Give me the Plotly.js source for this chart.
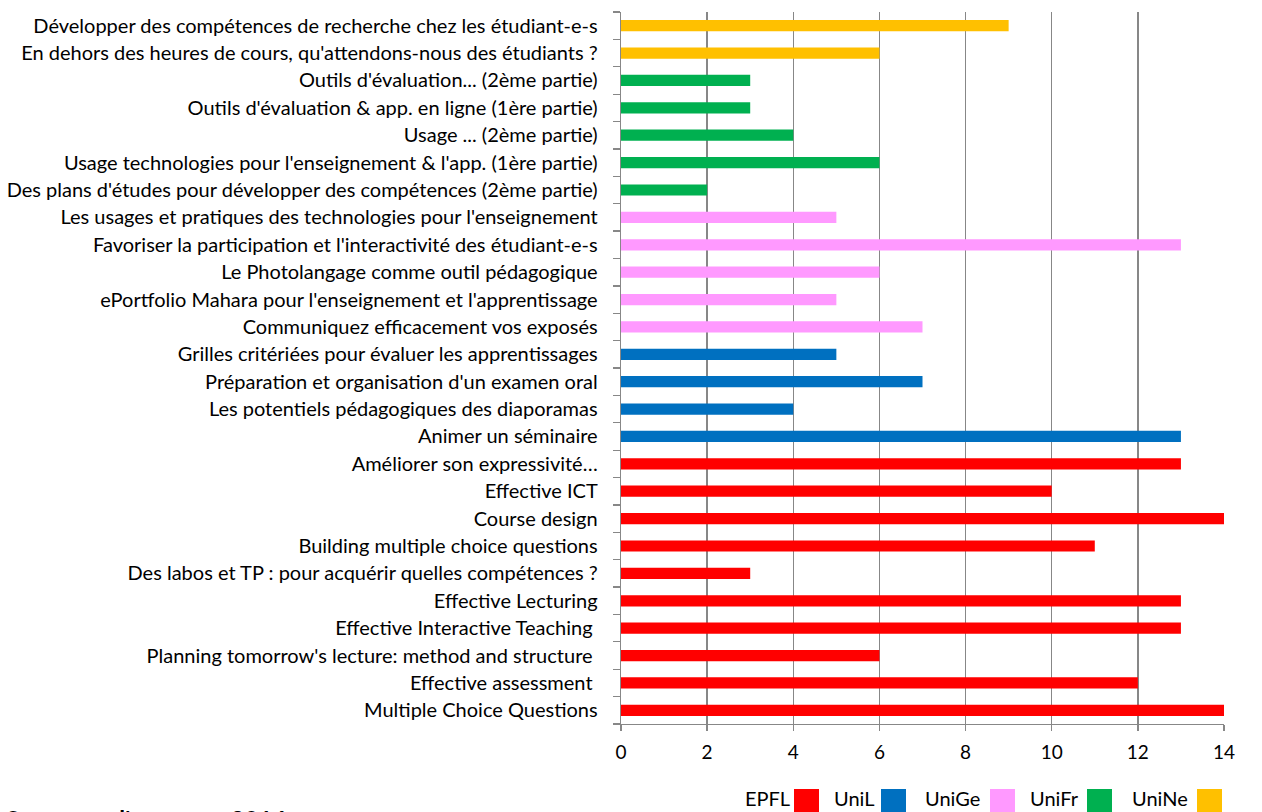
<!DOCTYPE html>
<html>
<head>
<meta charset="utf-8">
<script src="https://cdn.plot.ly/plotly-3.0.1.min.js"></script>
<style>
html,body{margin:0;padding:0;background:#fff;overflow:hidden;}
#chart{width:1262px;height:812px;}
</style>
</head>
<body>
<div id="chart"></div>
<script>
// Courses (bottom to top within each institution) and participant counts
const epflCourses = [
  "Multiple Choice Questions",
  "Effective assessment ",
  "Planning tomorrow's lecture: method and structure ",
  "Effective Interactive Teaching ",
  "Effective Lecturing",
  "Des labos et TP : pour acquérir quelles compétences ?",
  "Building multiple choice questions",
  "Course design",
  "Effective ICT",
  "Améliorer son expressivité…"
];
const epflValues = [14, 12, 6, 13, 13, 3, 11, 14, 10, 13];

const unilCourses = [
  "Animer un séminaire",
  "Les potentiels pédagogiques des diaporamas",
  "Préparation et organisation d'un examen oral",
  "Grilles critériées pour évaluer les apprentissages"
];
const unilValues = [13, 4, 7, 5];

const unigeCourses = [
  "Communiquez efficacement vos exposés",
  "ePortfolio Mahara pour l'enseignement et l'apprentissage",
  "Le Photolangage comme outil pédagogique",
  "Favoriser la participation et l'interactivité des étudiant-e-s",
  "Les usages et pratiques des technologies pour l'enseignement"
];
const unigeValues = [7, 5, 6, 13, 5];

const unifrCourses = [
  "Des plans d'études pour développer des compétences (2ème partie)",
  "Usage technologies pour l'enseignement & l'app. (1ère partie)",
  "Usage ... (2ème partie)",
  "Outils d'évaluation & app. en ligne (1ère partie)",
  "Outils d'évaluation... (2ème partie)"
];
const unifrValues = [2, 6, 4, 3, 3];

const unineCourses = [
  "En dehors des heures de cours, qu'attendons-nous des étudiants ?",
  "Développer des compétences de recherche chez les étudiant-e-s"
];
const unineValues = [6, 9];

const institutions = ["EPFL", "UniL", "UniGe", "UniFr", "UniNe"];
const xTicks = [0, 2, 4, 6, 8, 10, 12, 14];
const chartTitle = "Semestre d'automne 2014";

const colors = ["#FF0000", "#0070C0", "#FF99FF", "#00B050", "#FFC000"];
const groups = [
  [epflCourses, epflValues],
  [unilCourses, unilValues],
  [unigeCourses, unigeValues],
  [unifrCourses, unifrValues],
  [unineCourses, unineValues]
];

const allCourses = [].concat(epflCourses, unilCourses, unigeCourses, unifrCourses, unineCourses);

const traces = groups.map((g, i) => ({
  type: "bar",
  orientation: "h",
  name: institutions[i],
  y: g[0],
  x: g[1],
  marker: {color: colors[i], line: {width: 0}},
  hoverinfo: "x+y",
  showlegend: false
}));

const FONT = "Lato, 'Open Sans', sans-serif";
const grid = "#878787";

// Legend drawn as label followed by swatch, as in the original
const legendTextX = [743, 832, 923, 1028, 1130];
const legendSwX = [794, 881, 990, 1087, 1197];
const W = 1262, H = 812;
const PL = 621, PR = 38, PT = 12, PB = 88;
const px = v => (v - PL) / (W - PL - PR);
const py = v => (H - PB - v) / (H - PB - PT);
const annotations = institutions.map((n, i) => ({
  xref: "paper", yref: "paper",
  x: px(legendTextX[i]), y: py(784),
  xanchor: "left", yanchor: "top",
  text: n, showarrow: false,
  font: {family: FONT, size: 20, color: "#000"}
}));
annotations.push({
  xref: "paper", yref: "paper",
  x: px(4), y: py(803),
  xanchor: "left", yanchor: "top",
  text: "<b>" + chartTitle + "</b>", showarrow: false,
  font: {family: FONT, size: 24, color: "#000"}
});
const shapes = institutions.map((n, i) => ({
  type: "rect", xref: "paper", yref: "paper",
  x0: px(legendSwX[i]), x1: px(legendSwX[i] + 25),
  y0: py(789), y1: py(830),
  fillcolor: colors[i], line: {width: 0}
}));

const layout = {
  width: W, height: H,
  margin: {l: PL, r: PR, t: PT, b: PB, pad: 0},
  paper_bgcolor: "#fff", plot_bgcolor: "#fff",
  barmode: "overlay",
  bargap: 0.59,
  showlegend: false,
  font: {family: FONT, size: 20, color: "#000"},
  xaxis: {
    range: [0, 14], tickvals: xTicks, ticktext: xTicks.map(String),
    showgrid: true, gridcolor: grid, gridwidth: 1.3,
    showline: true, linecolor: grid, linewidth: 1.3,
    ticks: "outside", ticklen: 6, tickcolor: grid, tickwidth: 1.3,
    ticklabelstandoff: 5,
    zeroline: false, fixedrange: true,
    tickfont: {family: FONT, size: 19, color: "#000"}
  },
  yaxis: {
    type: "category", categoryorder: "array", categoryarray: allCourses,
    range: [-0.5, allCourses.length - 0.5],
    showline: true, linecolor: grid, linewidth: 1.3,
    ticks: "outside", tickson: "boundaries", ticklen: 7, tickcolor: grid, tickwidth: 1.3,
    showgrid: false, zeroline: false, fixedrange: true,
    ticklabelstandoff: 18,
    tickfont: {family: FONT, size: 20, color: "#000"}
  },
  annotations: annotations,
  shapes: shapes
};

Plotly.newPlot("chart", traces, layout, {displayModeBar: false, staticPlot: true});
</script>
</body>
</html>
